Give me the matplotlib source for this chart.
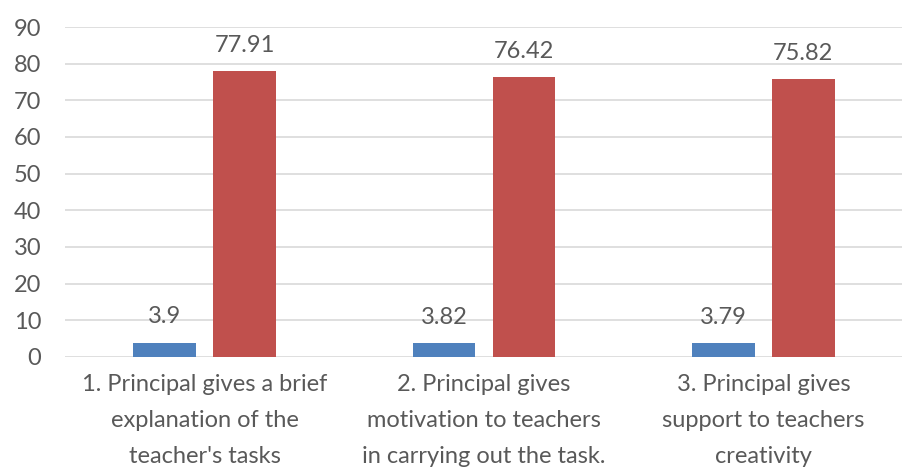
import matplotlib.pyplot as plt
import numpy as np

# données
categories = [
    "1. Principal gives a brief\nexplanation of the\nteacher's tasks",
    "2. Principal gives\nmotivation to teachers\nin carrying out the task.",
    "3. Principal gives\nsupport to teachers\ncreativity",
]
serie_bleue = [3.9, 3.82, 3.79]
serie_rouge = [77.91, 76.42, 75.82]
labels_bleue = ["3.9", "3.82", "3.79"]
labels_rouge = ["77.91", "76.42", "75.82"]

plt.rcParams['font.family'] = ['Lato', 'DejaVu Sans']
gris = '#595959'
taille = 17

fig = plt.figure(figsize=(9.03, 4.74), dpi=100)
ax = fig.add_axes([0.072, 0.247, 0.928, 0.696])

x = np.arange(len(categories))
w = 0.225
b1 = ax.bar(x - 0.143, serie_bleue, w, color='#4F81BD')
b2 = ax.bar(x + 0.143, serie_rouge, w, color='#C0504D')

# étiquettes de valeurs au-dessus des barres
for barres, labels in [(b1, labels_bleue), (b2, labels_rouge)]:
    for rect, lab in zip(barres, labels):
        ax.annotate(lab, (rect.get_x() + rect.get_width() / 2, rect.get_height()),
                    xytext=(0, 11), textcoords='offset points', ha='center', va='bottom',
                    fontsize=taille, color=gris)

ax.set_xlim(-0.5, 2.5)
ax.set_ylim(0, 90)
ax.set_yticks(range(0, 91, 10))
ax.yaxis.grid(True, color='#D9D9D9', linewidth=1.2)
ax.set_axisbelow(True)
for s in ax.spines.values():
    s.set_visible(False)
ax.tick_params(axis='both', length=0, colors=gris, labelsize=taille)
ax.tick_params(axis='y', pad=17)
ax.set_xticks(x)
ax.set_xticklabels(categories, linespacing=1.9)
ax.tick_params(axis='x', pad=12)

fig.savefig("out.png", dpi=100)
